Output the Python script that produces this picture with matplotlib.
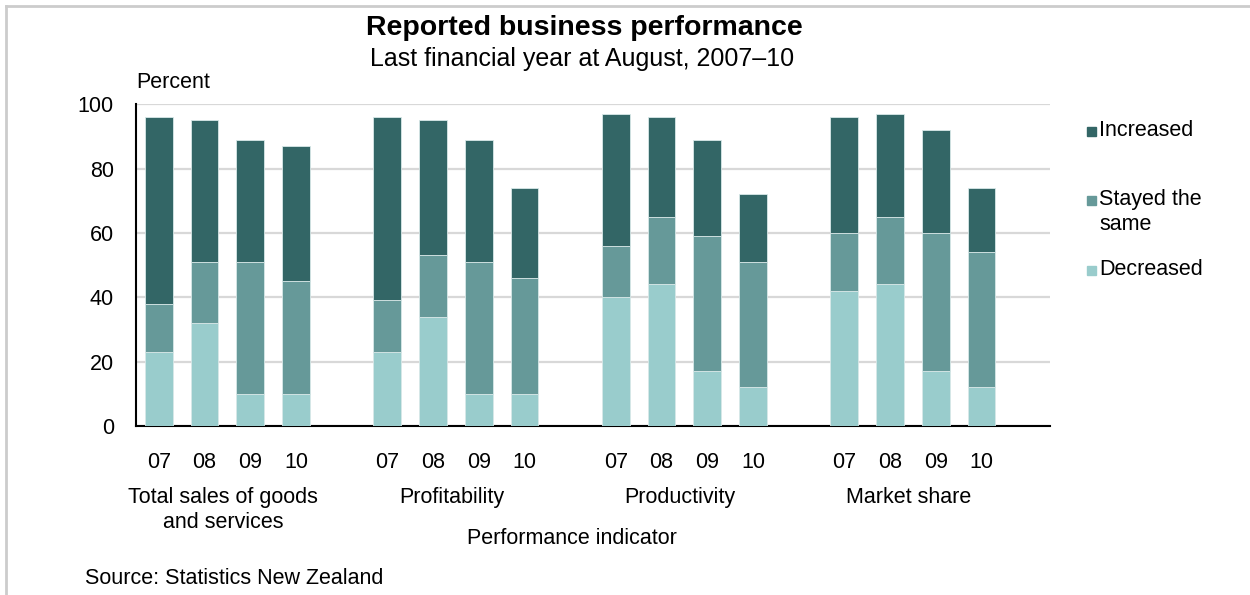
import numpy as np
import matplotlib
matplotlib.use("Agg")
import matplotlib.pyplot as plt
from matplotlib.transforms import blended_transform_factory
from matplotlib.lines import Line2D
from matplotlib.patches import Rectangle

plt.rcParams['font.family'] = ['Liberation Sans', 'DejaVu Sans']

# Data (percent of businesses)
indicators = ["Total sales of goods\nand services", "Profitability", "Productivity", "Market share"]
years = ["07", "08", "09", "10"]
series_names = ["Increased", "Stayed the\nsame", "Decreased"]

decreased = [23, 32, 10, 10,
             23, 34, 10, 10,
             40, 44, 17, 12,
             42, 44, 17, 12]
stayed_same = [15, 19, 41, 35,
               16, 19, 41, 36,
               16, 21, 42, 39,
               18, 21, 43, 42]
increased = [58, 44, 38, 42,
             57, 42, 38, 28,
             41, 31, 30, 21,
             36, 32, 32, 20]

colours = {"Increased": "#336666", "Stayed the\nsame": "#669999", "Decreased": "#99cccc"}
fs = 15.5

fig = plt.figure(figsize=(12.5, 5.95), dpi=100)
ax = fig.add_axes([0.1088, 0.284, 0.7312, 0.541])

# slot positions: 4 bars per group, one empty slot between groups
n_years = len(years)
x = np.array([g * (n_years + 1) + i for g in range(len(indicators)) for i in range(n_years)])
width = 0.61

bottom = np.zeros(len(x))
for vals, name in [(decreased, "Decreased"), (stayed_same, "Stayed the\nsame"), (increased, "Increased")]:
    ax.bar(x, vals, width, bottom=bottom, color=colours[name],
           edgecolor="#d8e8e8", linewidth=0.6, zorder=3)
    bottom += np.array(vals)

ax.set_xlim(-0.5, 19.5)
ax.set_ylim(0, 100)
ax.set_yticks([0, 20, 40, 60, 80, 100])
ax.yaxis.grid(True, color="#d8d8d8", linewidth=1.6, zorder=0)
ax.set_axisbelow(True)
for s in ["top", "right"]:
    ax.spines[s].set_visible(False)
ax.spines["left"].set_linewidth(1.5)
ax.spines["bottom"].set_linewidth(1.5)
ax.tick_params(axis="both", length=0, labelsize=fs)
ax.tick_params(axis="y", pad=16)
ax.tick_params(axis="x", pad=19)
ax.set_xticks(x)
ax.set_xticklabels(years * len(indicators))

ax.text(-0.5, 1.035, "Percent", transform=blended_transform_factory(ax.transData, ax.transAxes),
        fontsize=fs, ha="left", va="bottom")

# group labels under the year ticks
trans = blended_transform_factory(ax.transData, fig.transFigure)
for g, name in enumerate(indicators):
    cx = g * (n_years + 1) + (n_years - 1) / 2
    fig.text(cx - 0.1, 1 - 487 / 595, name, transform=trans, ha="center", va="top",
             fontsize=fs, linespacing=1.25)

fig.text(572 / 1250, 1 - 539 / 595, "Performance indicator", ha="center", va="center", fontsize=fs)
fig.text(85 / 1250, 1 - 578 / 595, "Source: Statistics New Zealand", ha="left", va="center", fontsize=fs)

fig.text(584 / 1250, 1 - 28 / 595, "Reported business performance", ha="center", va="center",
         fontsize=20.5, fontweight="bold")
fig.text(582 / 1250, 1 - 59 / 595, "Last financial year at August, 2007\u201310", ha="center",
         va="center", fontsize=18)

# legend
legend_y = [131, 200, 270]
for name, ly in zip(series_names, legend_y):
    fig.patches.append(Rectangle((1087 / 1250, 1 - (ly + 5) / 595), 9 / 1250, 9 / 595,
                                 transform=fig.transFigure, color=colours[name]))
    fig.text(1099 / 1250, 1 - (ly - 11) / 595, name, ha="left", va="top", fontsize=fs,
             linespacing=1.25)

# light frame on the top and left
fig.add_artist(Line2D([6 / 1250, 1], [1 - 6 / 595, 1 - 6 / 595], transform=fig.transFigure,
                      color="#cccccc", linewidth=2))
fig.add_artist(Line2D([6 / 1250, 6 / 1250], [0, 1 - 6 / 595], transform=fig.transFigure,
                      color="#cccccc", linewidth=2))

fig.savefig("out.png", dpi=100)
